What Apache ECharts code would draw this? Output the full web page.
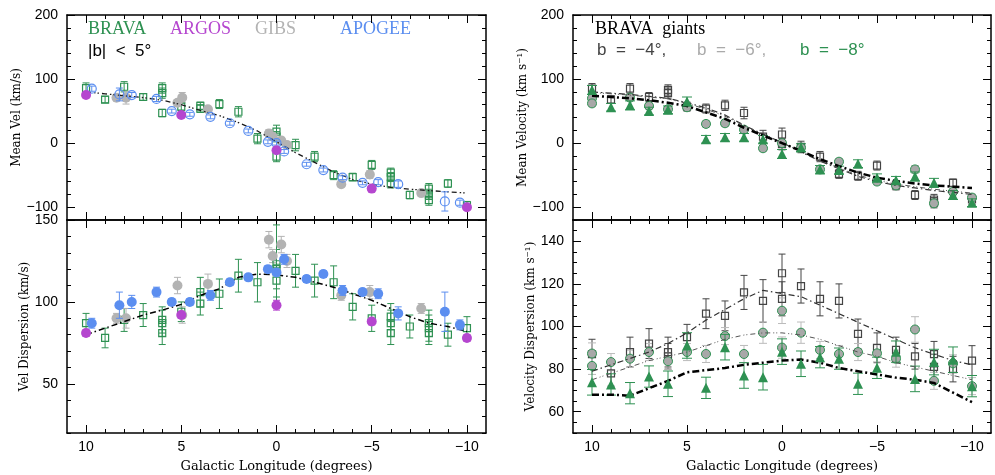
<!DOCTYPE html>
<html>
<head>
<meta charset="utf-8">
<script src="https://cdn.jsdelivr.net/npm/echarts@6/dist/echarts.min.js"></script>
<style>
  html, body { margin: 0; padding: 0; background: #fff; }
  #chart { width: 995px; height: 475px; }
</style>
</head>
<body>
<div id="chart"></div>
<script>
// ---------- left panels: |b| < 5 compilation ----------
const braLon = [10, 9, 8, 7, 6, 6, 6, 5, 4, 4, 3, 2, 1, 0, 0, 0, -1, -2, -3, -4, -5, -6, -6, -6, -7, -8, -8, -8, -9, -10];
const braMean = [86, 68, 88, 72, 86, 78, 47, 57, 58, 54, 61, 49, 7, 18, 10, -21, -3, -21, -50, -53, -34, -46, -53, -63, -81, -71, -80, -89, -63, -97];
const braMeanErr = [8, 5, 8, 5, 8, 8, 6, 6, 6, 6, 7, 8, 8, 10, 8, 8, 9, 8, 7, 6, 7, 7, 7, 7, 6, 8, 8, 8, 6, 6];
const braDisp = [87, 78, 89, 92, 89, 87, 81, 94, 106, 99, 105, 116, 112, 123, 120, 113, 119, 113, 112, 97, 90, 91, 87, 81, 85, 87, 84, 81, 80, 84];
const braDispErr = [6, 6, 7, 7, 8, 8, 7, 6, 9, 7, 9, 10, 12, 24, 12, 10, 10, 10, 10, 8, 8, 8, 8, 7, 7, 8, 8, 7, 7, 7];

const gibLon = [8.4, 7.9, 5.2, 4.95, 3.6, 0.4, 0.2, -0.25, -0.55, -3.4, -4.9, -7.6];
const gibMean = [71, 71, 63, 71, 53, 15, 10, 4, -3, -64, -49, -78];
const gibMeanErr = [4, 10, 5, 8, 4, 6, 5, 5, 5, 4, 6, 4];
const gibDisp = [90, 90, 110, 92, 111, 138, 128, 135, 125, 104, 106, 96];
const gibDispErr = [3, 6, 5, 5, 6, 5, 4, 5, 4, 3, 4, 3];

const apoLon = [9.7, 8.25, 7.6, 6.3, 5.5, 4.55, 3.47, 2.45, 1.48, 0.45, 0.0, -0.4, -1.58, -2.46, -3.47, -4.52, -5.34, -6.39, -8.84, -9.63];
const apoMean = [85, 76, 75, 69, 50, 45, 41, 31, 19, 2, 0, -13, -33, -42, -54, -62, -61, -64, -91, -93];
const apoMeanErr = [4, 10, 4, 4, 3, 3, 3, 3, 3, 3, 3, 3, 3, 3, 3, 3, 4, 5, 15, 4];
const apoDisp = [87, 98, 100, 106, 100, 100, 104, 112, 115, 120, 118, 126, 114, 117, 107, 106, 105, 93, 94, 86];
const apoDispErr = [3, 8, 4, 3, 2, 2, 3, 2, 2, 2, 2, 3, 2, 2, 3, 2, 3, 4, 12, 3];

const argLon = [10, 5, 0, -5, -10];
const argMean = [75, 44, -11, -71, -100];
const argDisp = [81, 92, 98, 88, 78];
const argErr = [2, 2, 3, 2, 2];

const modelLon = [10, 9, 8, 7, 6, 5, 4, 3, 2, 1, 0, -1, -2, -3, -4, -5, -6, -7, -8, -9, -10];
const modelMeanL = [80, 77, 74, 71, 67, 60, 51, 43, 32, 19, 2, -15, -30, -45, -57, -64, -69, -72, -74, -76, -78];
const modelDispL = [80, 84, 88, 92, 95, 98.5, 104, 108, 115, 117, 116.5, 115, 112, 109, 105, 101, 96, 91, 87, 85, 82];

// ---------- right panels: BRAVA giants at b = -4, -6, -8 ----------
const sqLon = [10, 9, 8, 7, 6, 6, 5, 4, 3, 2, 1, 0, 0, -1, -2, -3, -4, -5, -6, -7, -8, -8, -9, -10];
const sqMean = [85, 68, 85, 72, 83, 78, 57, 54, 59, 47, 10, 13.5, -1.5, -6, -21, -48, -51, -35, -66, -81, -88, -93, -62, -88];
const sqMeanErr = [8, 6, 8, 7, 8, 8, 7, 7, 8, 9, 10, 10, 9, 9, 8, 7, 7, 7, 7, 7, 8, 8, 6, 8];
const sqDisp = [87, 78, 88, 92, 88, 86, 95, 106, 105, 116, 112, 125, 113, 119, 113, 112, 96.5, 90, 89, 86, 87, 81, 80, 84];
const sqDispErr = [7, 6, 7, 7, 7, 6, 6, 7, 7, 8, 10, 9, 8, 8, 8, 8, 7, 7, 6, 6, 6, 6, 6, 7];

const ciMeanLon = [10, 10, 8, 7, 6, 5, 4, 3, 2, 1, 0, -1, -2, -3, -5, -6, -7, -8, -9, -10];
const ciMean = [70, 62, 71, 58, 53, 56, 30, 31, 21, -8, 0, -7, -41, -29, -60, -66, -41, -94, -76, -85];
const ciMeanErr = [5, 5, 5, 5, 5, 5, 5, 5, 5, 5, 5, 5, 5, 5, 5, 5, 6, 5, 5, 5];
const ciDispLon = [10, 10, 9, 8, 7, 6, 5, 4, 3, 2, 1, 0, 0, -1, -2, -3, -4, -5, -6, -7, -8, -9, -10];
const ciDisp = [87.3, 81.5, 83.3, 84.9, 88, 83.7, 88, 87.1, 95.5, 87.1, 97.1, 107.4, 90.1, 97.1, 89, 87.1, 88, 87.4, 84.9, 98.6, 74.5, 82.7, 72];
const ciDispErr = [5, 4, 4, 4, 4, 4, 4, 4, 4, 4, 5, 6, 5, 5, 4, 4, 4, 4, 4, 6, 4, 4, 4];

const trLon = [10, 9, 8, 7, 6, 5, 4, 3, 2, 1, 0, -1, -2, -3, -4, -5, -6, -7, -8, -9, -10];
const trMean = [83, 56, 59, 50, 52, 65, 6, 9, 9, 6, -17, -7, -41, -42, -32, -54, -58, -52, -62, -81, -93];
const trMeanErr = [7, 6, 7, 6, 6, 7, 6, 6, 6, 6, 7, 6, 6, 6, 6, 6, 6, 7, 7, 7, 6];
const trDisp = [73.8, 72.8, 68.7, 76.5, 73.1, 91.1, 71.2, 90.3, 77, 76.2, 88.2, 82.5, 85.6, 84.9, 73.1, 80.6, 88.2, 75.4, 83.3, 84.4, 72];
const trDispErr = [6, 5, 5, 5, 6, 6, 5, 6, 6, 6, 6, 6, 5, 5, 5, 5, 5, 6, 6, 6, 5];

const modelMean4 = [80, 78, 76, 73, 70, 63, 55, 44, 28, 14, 1, -14, -28, -40, -52, -60, -66, -70, -74, -77, -80];
const modelMean6 = [79, 77, 75, 72, 69, 62, 53, 42, 27, 13, 0, -13, -27, -39, -50, -58, -64, -68, -72, -75, -78];
const modelMean8 = [74, 72, 70, 67, 63, 58, 48, 38, 24, 12, 0, -12, -25, -36, -46, -54, -59, -63, -66, -68, -70];
const modelDisp4 = [79, 82, 85, 88, 92, 97, 103, 108, 113, 117, 115.5, 114, 110, 106, 102, 98, 94, 90, 87, 84, 82];
const modelDisp6 = [75, 78, 81, 84, 86, 88, 91, 94, 96, 97, 97, 96, 94, 91, 88, 86, 83, 81, 79, 77, 75];
const modelDisp8 = [68, 68, 67.5, 71, 74.5, 78.5, 79.5, 80.5, 82, 83, 84, 84.5, 83, 80.5, 79, 77.5, 76, 75, 73.5, 69, 64.5];

// tick values
const lonMajor = [10, 5, 0, -5, -10];
const lonMinor = [10, 9, 8, 7, 6, 5, 4, 3, 2, 1, 0, -1, -2, -3, -4, -5, -6, -7, -8, -9, -10];
const meanMajor = [-100, 0, 100, 200];
const meanMinor = [-120, -100, -80, -60, -40, -20, 0, 20, 40, 60, 80, 100, 120, 140, 160, 180, 200];
const dispLMajor = [50, 100, 150];
const dispLMinor = [20, 30, 40, 50, 60, 70, 80, 90, 100, 110, 120, 130, 140, 150];
const dispRMajor = [60, 80, 100, 120, 140];
const dispRMinor = [50, 55, 60, 65, 70, 75, 80, 85, 90, 95, 100, 105, 110, 115, 120, 125, 130, 135, 140, 145, 150];

const GREEN = '#2e9152';
const MAGENTA = '#b546cf';
const GRAY = '#b3b3b3';
const BLUE = '#5b8ef0';
const DARK = '#444444';

const sans = 'Liberation Sans';
const serif = 'DejaVu Serif';
const minus = v => String(v).replace('-', '\u2212');
const frame = { color: '#000', width: 1.5 };

const grids = [
    { left: 67, top: 15, width: 419, height: 205 },
    { left: 67, top: 220, width: 419, height: 213 },
    { left: 573, top: 15, width: 418, height: 205 },
    { left: 573, top: 220, width: 418, height: 213 }
];

const yConf = [
    { min: -120, max: 200, major: meanMajor, minor: meanMinor, name: 'Mean Vel (km/s)' },
    { min: 20, max: 150, major: dispLMajor, minor: dispLMinor, name: 'Vel Dispersion (km/s)' },
    { min: -120, max: 200, major: meanMajor, minor: meanMinor, name: 'Mean Velocity (km s\u207B\u00B9)' },
    { min: 50, max: 150, major: dispRMajor, minor: dispRMinor, name: 'Velocity Dispersion (km s\u207B\u00B9)' }
];

let xAxes = [], yAxes = [];
grids.forEach((gr, g) => {
    const bottom = g === 1 || g === 3;
    const xBase = { gridIndex: g, type: 'value', min: -11, max: 11, inverse: true, splitLine: { show: false } };
    xAxes.push({
        ...xBase, position: 'bottom',
        axisLine: { show: true, onZero: false, lineStyle: frame },
        axisTick: { inside: true, length: 8, customValues: lonMajor, lineStyle: { color: '#000' } },
        axisLabel: { show: bottom, customValues: lonMajor, formatter: minus, margin: 7, fontFamily: sans, fontSize: 14, color: '#000' },
        name: bottom ? 'Galactic Longitude (degrees)' : '', nameLocation: 'middle', nameGap: 27,
        nameTextStyle: { fontFamily: serif, fontSize: 13, color: '#000' }
    });
    xAxes.push({
        ...xBase, position: 'bottom',
        axisLine: { show: false, onZero: false },
        axisTick: { inside: true, length: 4, customValues: lonMinor, lineStyle: { color: '#000' } },
        axisLabel: { show: false }
    });
    xAxes.push({
        ...xBase, position: 'top',
        axisLine: { show: true, onZero: false, lineStyle: frame },
        axisTick: { inside: true, length: 8, customValues: lonMajor, lineStyle: { color: '#000' } },
        axisLabel: { show: false }
    });
    xAxes.push({
        ...xBase, position: 'top',
        axisLine: { show: false, onZero: false },
        axisTick: { inside: true, length: 4, customValues: lonMinor, lineStyle: { color: '#000' } },
        axisLabel: { show: false }
    });

    const c = yConf[g];
    const yBase = { gridIndex: g, type: 'value', min: c.min, max: c.max, splitLine: { show: false } };
    yAxes.push({
        ...yBase, position: 'left',
        axisLine: { show: true, onZero: false, lineStyle: frame },
        axisTick: { inside: true, length: 8, customValues: c.major, lineStyle: { color: '#000' } },
        axisLabel: { customValues: c.major, formatter: minus, margin: 9, fontFamily: sans, fontSize: 14, color: '#000' },
        name: c.name, nameLocation: 'middle', nameGap: 36,
        nameTextStyle: { fontFamily: serif, fontSize: 12, color: '#000' }
    });
    yAxes.push({
        ...yBase, position: 'left',
        axisLine: { show: false, onZero: false },
        axisTick: { inside: true, length: 4, customValues: c.minor, lineStyle: { color: '#000' } },
        axisLabel: { show: false }
    });
    yAxes.push({
        ...yBase, position: 'right',
        axisLine: { show: true, onZero: false, lineStyle: frame },
        axisTick: { inside: true, length: 8, customValues: c.major, lineStyle: { color: '#000' } },
        axisLabel: { show: false }
    });
    yAxes.push({
        ...yBase, position: 'right',
        axisLine: { show: false, onZero: false },
        axisTick: { inside: true, length: 4, customValues: c.minor, lineStyle: { color: '#000' } },
        axisLabel: { show: false }
    });
});

// vertical error bar with caps
const errBar = (g, lon, val, err, color, cap, z) => ({
    type: 'custom', xAxisIndex: 4 * g, yAxisIndex: 4 * g, z: z || 2, silent: true,
    data: lon.map((l, i) => [l, val[i], err[i]]),
    renderItem: (params, api) => {
        const x = api.value(0), y = api.value(1), e = api.value(2);
        const lo = api.coord([x, y - e]);
        const hi = api.coord([x, y + e]);
        const st = { stroke: color, lineWidth: 1 };
        return {
            type: 'group', children: [
                { type: 'line', shape: { x1: lo[0], y1: lo[1], x2: hi[0], y2: hi[1] }, style: st },
                { type: 'line', shape: { x1: lo[0] - cap, y1: lo[1], x2: lo[0] + cap, y2: lo[1] }, style: st },
                { type: 'line', shape: { x1: hi[0] - cap, y1: hi[1], x2: hi[0] + cap, y2: hi[1] }, style: st }
            ]
        };
    }
});

const points = (g, lon, val, symbol, size, fill, border, bw, z) => ({
    type: 'scatter', xAxisIndex: 4 * g, yAxisIndex: 4 * g, z: z || 3, silent: true,
    symbol: symbol, symbolSize: size,
    itemStyle: { color: fill, borderColor: border, borderWidth: bw, opacity: 1 },
    data: lon.map((l, i) => [l, val[i]])
});

const model = (g, lon, val, color, width, dash) => ({
    type: 'line', xAxisIndex: 4 * g, yAxisIndex: 4 * g, z: 4, silent: true,
    showSymbol: false, symbol: 'none',
    lineStyle: { color: color, width: width, type: dash },
    data: lon.map((l, i) => [l, val[i]])
});

const series = [
    // left top
    errBar(0, braLon, braMean, braMeanErr, GREEN, 3.5),
    points(0, braLon, braMean, 'rect', 7, 'rgba(255,255,255,0)', GREEN, 1.2),
    errBar(0, gibLon, gibMean, gibMeanErr, GRAY, 3.5, 3),
    points(0, gibLon, gibMean, 'circle', 10, GRAY, GRAY, 0, 3),
    errBar(0, apoLon, apoMean, apoMeanErr, BLUE, 3.5, 5),
    points(0, apoLon, apoMean, 'circle', 9, 'rgba(255,255,255,0)', BLUE, 1.2, 5),
    points(0, argLon, argMean, 'circle', 10, MAGENTA, MAGENTA, 0, 6),
    model(0, modelLon, modelMeanL, '#1a1a1a', 1.3, [5, 3, 1.5, 2, 1.5, 3]),
    // left bottom
    model(1, modelLon, modelDispL, '#000', 1.5, [6, 3, 1.5, 3]),
    errBar(1, braLon, braDisp, braDispErr, GREEN, 3.5),
    points(1, braLon, braDisp, 'rect', 7, 'rgba(255,255,255,0)', GREEN, 1.2),
    errBar(1, gibLon, gibDisp, gibDispErr, GRAY, 3.5, 3),
    points(1, gibLon, gibDisp, 'circle', 10, GRAY, GRAY, 0, 3),
    errBar(1, apoLon, apoDisp, apoDispErr, BLUE, 3.5, 5),
    points(1, apoLon, apoDisp, 'circle', 10, BLUE, BLUE, 0, 5),
    errBar(1, argLon, argDisp, argErr, MAGENTA, 3.5, 6),
    points(1, argLon, argDisp, 'circle', 10, MAGENTA, MAGENTA, 0, 6),
    // right top
    errBar(2, sqLon, sqMean, sqMeanErr, DARK, 3.5),
    points(2, sqLon, sqMean, 'rect', 7, 'rgba(255,255,255,0)', DARK, 1.2),
    errBar(2, ciMeanLon, ciMean, ciMeanErr, '#bbbbbb', 4, 3),
    points(2, ciMeanLon, ciMean, 'circle', 9, '#a8a8a8', GREEN, 1, 3),
    errBar(2, trLon, trMean, trMeanErr, GREEN, 5, 4),
    points(2, trLon, trMean, 'triangle', 10, GREEN, GREEN, 0, 4),
    model(2, modelLon, modelMean4, '#333', 1.2, [6, 3, 1.5, 3]),
    model(2, modelLon, modelMean6, '#555', 1, [5, 3, 1, 2, 1, 3]),
    model(2, modelLon, modelMean8, '#000', 2.5, [7, 3, 2, 3]),
    // right bottom
    errBar(3, sqLon, sqDisp, sqDispErr, DARK, 3.5),
    points(3, sqLon, sqDisp, 'rect', 7, 'rgba(255,255,255,0)', DARK, 1.2),
    errBar(3, ciDispLon, ciDisp, ciDispErr, '#bbbbbb', 4, 3),
    points(3, ciDispLon, ciDisp, 'circle', 9, '#a8a8a8', GREEN, 1, 3),
    errBar(3, trLon, trDisp, trDispErr, GREEN, 5, 4),
    points(3, trLon, trDisp, 'triangle', 10, GREEN, GREEN, 0, 4),
    model(3, modelLon, modelDisp4, '#333', 1.2, [6, 3, 1.5, 3]),
    model(3, modelLon, modelDisp6, '#555', 1, [5, 3, 1, 2, 1, 3]),
    model(3, modelLon, modelDisp8, '#000', 2.5, [7, 3, 2, 3])
];

const label = (x, y, text, color, font) => ({
    type: 'text', left: x, top: y, silent: true,
    style: { text: text, fill: color, font: font }
});

const chart = echarts.init(document.getElementById('chart'), null, { renderer: 'canvas' });
chart.setOption({
    animation: false,
    backgroundColor: '#fff',
    grid: grids,
    xAxis: xAxes,
    yAxis: yAxes,
    series: series,
    graphic: [
        label(88, 20, 'BRAVA', GREEN, '18px "Liberation Serif"'),
        label(170, 20, 'ARGOS', MAGENTA, '18px "Liberation Serif"'),
        label(255, 20, 'GIBS', GRAY, '18px "Liberation Serif"'),
        label(340, 20, 'APOGEE', BLUE, '18px "Liberation Serif"'),
        label(88, 43, '|b|  <  5\u00B0', '#000', '17px "Liberation Sans"'),
        label(595, 20, 'BRAVA  giants', '#000', '18px "Liberation Serif"'),
        label(597, 42, 'b  =  \u22124\u00B0,', DARK, '17px "Liberation Sans"'),
        label(697, 42, 'b  =  \u22126\u00B0,', '#aaaaaa', '17px "Liberation Sans"'),
        label(800, 42, 'b  =  \u22128\u00B0', GREEN, '17px "Liberation Sans"')
    ]
});
window.addEventListener('resize', () => chart.resize());
</script>
</body>
</html>
